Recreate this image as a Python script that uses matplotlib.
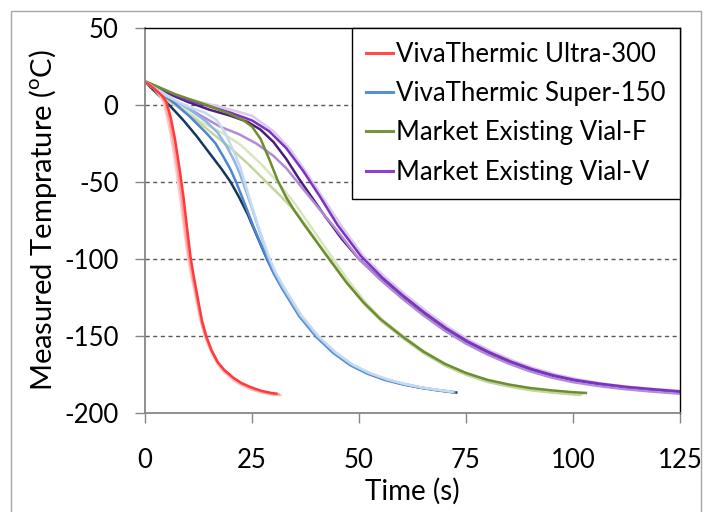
import matplotlib
matplotlib.use("Agg")
import matplotlib.pyplot as plt
from matplotlib.patches import Rectangle

plt.rcParams['font.family'] = ['Lato', 'DejaVu Sans']
plt.rcParams['mathtext.fontset'] = 'custom'
plt.rcParams['mathtext.rm'] = 'Lato'
plt.rcParams['axes.unicode_minus'] = False

# ---------------- data ----------------
# VivaThermic Ultra-300 (three trials)
ultra_a_t = [0, 2, 4, 5, 6, 7, 8, 9, 10, 10.7, 11.5, 12.5, 13.3, 14.3, 15.5, 17, 18.5, 20.6, 22.5, 24.5, 27, 29.5, 31]
ultra_a_T = [15, 11, 6, 2, -8, -22, -40, -60, -84, -100, -113, -128, -140, -150, -159, -167, -172, -177, -180.5, -183, -185.5, -187, -187.5]
ultra_b_t = [0, 2, 3.8, 4.7, 5.6, 6.6, 7.6, 8.6, 9.6, 10.4, 11.2, 12.3, 13.1, 14.1, 15.4, 16.9, 18.5, 20.6, 22.5, 24.5, 27, 29.5, 31.5]
ultra_b_T = [15, 11, 6, 2, -8, -22, -40, -60, -84, -100, -113, -128, -140, -150, -159, -167, -172.5, -177.5, -181, -183.5, -186, -187.5, -188]
ultra_c_t = [0, 2, 3.5, 4.3, 5.2, 6.2, 7.2, 8.2, 9.3, 10.1, 11.0, 12.1, 13.0, 14.0, 15.3, 16.9, 18.5, 20.6, 22.5, 24.5, 27, 29.5, 32]
ultra_c_T = [15, 11, 6, 2, -8, -22, -40, -60, -84, -100, -113, -128, -140, -150, -159.5, -168, -173.5, -178.5, -182, -184.5, -186.5, -188, -188.5]

# VivaThermic Super-150 (four trials)
super_a_t = [0, 3, 6, 9, 12, 15, 18, 20, 22, 24, 26, 28.5, 30, 32, 36, 40, 44, 48, 52, 56, 60, 64, 68, 73]
super_a_T = [15, 7, -1, -10, -20, -31, -42, -50, -60, -71, -84, -100, -108, -118, -136, -150, -160.5, -168.5, -174, -178, -181, -183.3, -185, -186.8]
super_b_t = [0, 4, 7, 10.5, 14.4, 16.5, 18.3, 20, 21.4, 23, 25.5, 28.5, 30, 32, 36, 40, 44, 48, 52, 56, 60, 64, 68, 72.5]
super_b_T = [15, 7, 1, -7.6, -18.4, -25, -33.5, -42, -50.8, -62, -80, -100, -109, -119, -137, -150.5, -161, -169, -174.5, -178.5, -181.3, -183.5, -185.2, -186.8]
super_c_t = [0, 5, 10, 14.4, 17, 19.1, 21, 22.2, 23.5, 25, 26.5, 28.7, 30.2, 32.2, 36.2, 40.2, 44.2, 48.2, 52.2, 56.2, 60.2, 64.2, 68.2, 72.5]
super_c_T = [15, 6, -2, -11, -18, -27, -37, -45, -55, -67, -80, -98, -108, -118.5, -136.5, -150, -160.5, -168.5, -174, -178, -181, -183.3, -185, -186.5]
super_d_t = [0, 5, 10, 14, 16.7, 18.5, 19.9, 21, 22.2, 23.5, 25, 26.5, 29, 30.5, 32.5, 36.5, 40.5, 44.5, 48.5, 52.5, 56.5, 60.5, 64.5, 68.5, 72]
super_d_T = [15, 6, -1, -5, -9.7, -17, -25, -32, -40, -52, -66, -79, -99, -108.5, -118.5, -136.5, -150, -160.5, -168.5, -174, -178, -181, -183.3, -185, -186.3]

# Market Existing Vial-F (three trials)
vialf_a_t = [0, 7, 14.4, 20, 23, 25, 27, 29, 31, 33, 35, 37, 40, 43, 47, 51, 55, 60, 65, 70, 75, 80, 85, 90, 95, 100, 103.3]
vialf_a_T = [15.5, 7, 0, -6, -10, -14, -22, -35, -49, -60, -69, -77, -88.5, -100, -115, -128, -139, -150, -160, -168, -174, -178.5, -181.5, -183.8, -185.3, -186.5, -187]
vialf_b_t = [0, 4, 8, 12, 16, 20, 24, 28, 32, 35.4, 38, 41, 43.5, 47.3, 51.3, 55.3, 60.3, 65.3, 70.3, 75.3, 80.3, 85.3, 90.3, 95.3, 100, 102]
vialf_b_T = [15, 6, -2, -10, -19, -28, -38, -49, -60, -70, -80, -92, -101, -116, -129.5, -140.5, -151.5, -161.5, -169.5, -175.5, -180, -183, -185.3, -186.8, -188, -188.3]
vialf_c_t = [0, 6, 12.9, 18, 22.4, 27, 31, 35, 38.5, 42, 44, 47.5, 51.5, 55.5, 60.5, 65.5, 70.5, 75.5, 80.5, 85.5, 90.5, 95.5, 100, 102.5]
vialf_c_T = [15, 5, -10.8, -18, -26, -38, -50, -64, -78, -92, -100, -114, -128, -139.5, -150.5, -160.5, -168.5, -174.5, -179, -182, -184.3, -186, -187.3, -187.8]

# Market Existing Vial-V (four trials)
vialv_a_t = [0, 5, 10, 15, 20, 24, 27, 30, 33, 36, 39, 42, 46, 50, 55, 60, 65, 70, 75, 80, 85, 90, 95, 100, 106, 112, 118, 125]
vialv_a_T = [15, 8, 2, -3, -7, -11, -16, -24, -35, -48, -60, -72, -87, -100, -113, -125, -136, -146, -154.5, -161.5, -167.5, -172.5, -176.5, -179.5, -182, -184, -185.5, -187]
vialv_b_t = [0, 5, 10, 14, 20, 25, 29, 33, 37, 41, 45, 50.4, 55.4, 60.4, 65.4, 70.4, 75.4, 80.4, 85.4, 90.4, 95.4, 100.4, 106.4, 112.4, 118.4, 125]
vialv_b_T = [15, 9, 3, 0, -5, -10, -17, -28, -43, -60, -78, -98, -112, -124, -135, -145, -153.5, -160.5, -166.5, -171.5, -175.5, -178.5, -181, -183, -184.5, -186]
vialv_c_t = [0, 5, 10, 17.5, 22, 26, 30, 33, 36.2, 40, 45, 50, 55, 60, 65, 70, 75, 80, 85, 90, 95, 100, 106, 112, 118, 125]
vialv_c_T = [15, 6, -2, -14, -19, -25, -33, -41, -52, -65, -82, -100, -113.5, -125.5, -136.5, -146.5, -155, -162, -168, -173, -177, -180, -182.5, -184.5, -186, -187.5]
vialv_d_t = [0, 10, 20, 25, 30, 34, 38, 42, 46, 51, 56, 61, 66, 71, 76, 81, 86, 91, 96, 101, 107, 113, 119, 125]
vialv_d_T = [15, 4, -3, -7, -17, -29, -45, -62, -79, -98, -111.5, -123.5, -134.5, -144.5, -153, -160, -166, -171, -175, -178, -181, -183, -184.5, -185.5]

legend_labels = ["VivaThermic Ultra-300", "VivaThermic Super-150",
                 "Market Existing Vial-F", "Market Existing Vial-V"]
x_ticks = [0, 25, 50, 75, 100, 125]
y_ticks = [-200, -150, -100, -50, 0, 50]
grid_levels = [-150, -100, -50, 0]

# ---------------- figure ----------------
fig = plt.figure(figsize=(7.12, 5.12), dpi=100)
ax = fig.add_axes([145/712, 1-413/512, (680-145)/712, (413-28)/512])

fig.patches.append(Rectangle((11/712, -0.02), (701-11)/712, 1.02-11/512,
                             transform=fig.transFigure, fill=False,
                             edgecolor='#A6A6A6', linewidth=1.0))

for g in grid_levels:
    ax.axhline(g, color='#5A5A5A', linewidth=1.0, linestyle=(0, (3, 2.5)), zorder=1)

lw = 1.8
series = [
    (vialv_a_t, vialv_a_T, '#4D1D7C'),
    (vialv_d_t, vialv_d_T, '#DCCAEE'),
    (vialv_c_t, vialv_c_T, '#B18BDA'),
    (vialv_b_t, vialv_b_T, '#7C33C2'),
    (vialf_c_t, vialf_c_T, '#D8E6C0'),
    (vialf_b_t, vialf_b_T, '#C2D69E'),
    (vialf_a_t, vialf_a_T, '#6E8C30'),
    (super_a_t, super_a_T, '#17365D'),
    (super_b_t, super_b_T, '#4D85D1'),
    (super_c_t, super_c_T, '#8DB6E6'),
    (super_d_t, super_d_T, '#C6DAF2'),
    (ultra_c_t, ultra_c_T, '#FFC9C9'),
    (ultra_b_t, ultra_b_T, '#FF9E9E'),
    (ultra_a_t, ultra_a_T, '#FF3A3A'),
]
for t, T, c in series:
    ax.plot(t, T, color=c, linewidth=lw, solid_capstyle='butt',
            solid_joinstyle='round', zorder=2)

# legend proxies
handle_colors = ['#FF4B4B', '#5A8FD8', '#77933C', '#8A42CC']
handles = [plt.Line2D([], [], color=c, linewidth=2.2) for c in handle_colors]
leg = ax.legend(handles, legend_labels, loc='upper right', borderaxespad=0,
                fontsize=18.5, frameon=True, fancybox=False, framealpha=1,
                edgecolor='black', handlelength=1.05, handletextpad=0.12,
                labelspacing=0.55, borderpad=0.55)
leg.get_frame().set_linewidth(1.0)
leg.set_zorder(5)

ax.set_xlim(0, 125)
ax.set_ylim(-200, 50)
ax.set_xticks(x_ticks)
ax.set_yticks(y_ticks)
ax.tick_params(axis='both', direction='out', length=7, width=1, color='#868686',
               labelsize=18.5, labelcolor='black')
ax.tick_params(axis='x', pad=18)
ax.tick_params(axis='y', pad=12)

for s in ['left', 'bottom']:
    ax.spines[s].set_color('#868686')
    ax.spines[s].set_linewidth(1.3)
for s in ['top', 'right']:
    ax.spines[s].set_color('black')
    ax.spines[s].set_linewidth(1.0)

ax.set_xlabel('Time (s)', fontsize=20, labelpad=4)
ax.set_ylabel(r'Measured Temprature ($^{\mathrm{o}}$C)', fontsize=21, labelpad=4)

fig.savefig('out.png', dpi=100)
